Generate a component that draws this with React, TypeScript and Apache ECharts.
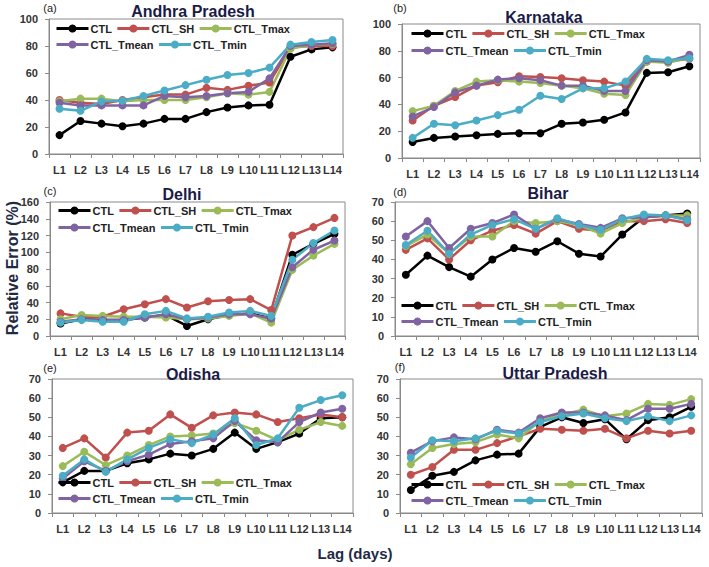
import React, { useEffect, useRef } from "react";
import * as echarts from "echarts";

const lags = ["L1", "L2", "L3", "L4", "L5", "L6", "L7", "L8", "L9", "L10", "L11", "L12", "L13", "L14"];
const seriesNames = ["CTL", "CTL_SH", "CTL_Tmax", "CTL_Tmean", "CTL_Tmin"];
const seriesColors = ["#000000", "#C0504D", "#9BBB59", "#8064A2", "#4BACC6"];

// (a) Andhra Pradesh
const apCTL = [14, 24.5, 22.5, 20.5, 22.5, 26, 26, 31, 34.5, 36, 36.5, 72, 77.5, 79];
const apSH = [40, 38, 37, 40, 42, 44, 44, 49, 47.5, 50.5, 53, 79, 80, 80];
const apTmax = [39, 41, 41, 39, 40, 40, 40, 42, 45, 44, 46, 78, 81, 81.5];
const apTmean = [38, 36, 36, 36, 36, 43, 42, 43, 45, 46, 56, 80, 81, 82];
const apTmin = [33.5, 32, 39, 39.5, 43, 47, 51, 55, 58.5, 60, 64, 81, 83, 84.5];

// (b) Karnataka
const kaCTL = [12, 15, 16, 17, 18, 18.5, 18.5, 25.5, 26.5, 28.5, 34, 63.5, 64, 68.5];
const kaSH = [28, 39, 45.5, 54, 56.5, 61, 60.5, 59.5, 58, 57, 54, 72, 72, 74];
const kaTmax = [35, 39, 50, 57, 58, 57, 56, 54, 52, 48, 47, 72, 71, 75];
const kaTmean = [31, 38, 49, 54, 58.5, 59.5, 58, 54, 54, 50, 50, 73, 72, 77];
const kaTmin = [15, 25.5, 24.5, 28, 32, 36, 46.5, 44, 52, 52, 57, 74, 73, 74.5];

// (c) Delhi
const deCTL = [15, 20, 19, 19, 22, 25, 12, 20, 25, 27, 21, 97, 110, 122];
const deSH = [27, 23, 23, 32, 38, 44, 34, 41.5, 43, 44, 31, 120, 130, 141];
const deTmax = [20, 25, 24, 23, 23, 22, 20, 21, 24, 27, 16, 79, 96, 110];
const deTmean = [17, 20, 19, 19, 22, 26, 20, 22, 26, 26, 21, 82, 103, 114];
const deTmin = [16, 19, 17, 17, 26, 30, 21, 23, 28, 30, 24, 91, 111, 126];

// (d) Bihar
const biCTL = [32, 42, 36, 31, 40, 46, 44, 49.5, 43, 41.5, 53, 62, 63, 64];
const biSH = [45, 51, 40, 50, 55, 58, 53.5, 60, 56, 55, 60, 60, 61, 59];
const biTmax = [47, 53, 43, 52, 52, 60, 59, 60, 58, 53.5, 59, 62, 63, 63];
const biTmean = [52, 60, 46, 56, 59, 63.5, 56, 61, 58.5, 56.5, 61.5, 62, 63, 61];
const biTmin = [47.5, 55, 43, 53, 58, 61, 56, 61.5, 58, 55.5, 61, 63.5, 63, 60.5];

// (e) Odisha
const odCTL = [16, 22, 22, 26, 28, 31, 30, 33.5, 42, 33.5, 37, 41.5, 49.5, 50];
const odSH = [34, 39, 29, 42, 43, 51.5, 44.5, 51, 52.5, 51.5, 47.5, 49.5, 51.5, 50];
const odTmax = [24.5, 32, 25, 30, 35.5, 40, 40.5, 41.5, 47, 43, 38, 43.5, 47.5, 45.5];
const odTmean = [18, 27, 22, 27, 30.5, 36, 37.5, 39, 48, 38, 37, 47.5, 52.5, 54.5];
const odTmin = [19.5, 28, 21.5, 28, 34, 38.5, 36.5, 41, 49.5, 35.5, 39, 55, 59, 61.5];

// (f) Uttar Pradesh
const upCTL = [12, 19.5, 21.5, 27.5, 30.5, 31, 45, 50, 47, 49, 38.5, 48.5, 50, 55.5];
const upSH = [20, 24, 33, 33, 36.5, 40, 44, 43.5, 43, 44, 39, 43, 41.5, 43];
const upTmax = [25.5, 34, 36, 37, 41, 39, 48, 51.5, 54, 50.5, 52, 57, 56.5, 59.5];
const upTmean = [31.5, 37.5, 39.5, 38.5, 43.5, 42, 49.5, 52.5, 52.5, 51, 48.5, 54.5, 54.5, 57];
const upTmin = [29, 38, 37.5, 39, 43, 41.5, 47.5, 50.5, 52, 49.5, 48, 50.5, 48, 51];

const panelTitles = ["Andhra Pradesh", "Karnataka", "Delhi", "Bihar", "Odisha", "Uttar Pradesh"];
const panelTags = ["(a)", "(b)", "(c)", "(d)", "(e)", "(f)"];
const panelData = [
  [apCTL, apSH, apTmax, apTmean, apTmin],
  [kaCTL, kaSH, kaTmax, kaTmean, kaTmin],
  [deCTL, deSH, deTmax, deTmean, deTmin],
  [biCTL, biSH, biTmax, biTmean, biTmin],
  [odCTL, odSH, odTmax, odTmean, odTmin],
  [upCTL, upSH, upTmax, upTmean, upTmin],
];
const yMax = [100, 100, 160, 70, 70, 70];
const yStep = [20, 20, 20, 10, 10, 10];

// layout (pixels)
const grids = [
  { left: 49, top: 19, width: 294, height: 135 },
  { left: 402, top: 24, width: 298, height: 134 },
  { left: 50, top: 202, width: 295, height: 134 },
  { left: 395, top: 202, width: 303, height: 134 },
  { left: 52, top: 379, width: 301, height: 134 },
  { left: 400, top: 379, width: 302, height: 134 },
];
const titlePos = [
  [193, 11], [544, 17], [182, 194], [548, 193], [193, 374], [555, 373],
];
const tagPos = [
  [50, 8], [400, 8], [50, 191], [400, 192], [50, 368], [400, 367],
];
const legendPos = [
  [55, 30, 46], [410, 35, 52], [57, 212, 229], [400, 307, 323], [57, 484, 500], [410, 486, 502],
];

const FONT = '"Liberation Sans", Arial, sans-serif';

export default function App() {
  const ref = useRef<HTMLDivElement>(null);
  useEffect(() => {
    if (!ref.current) return;
    const chart = echarts.init(ref.current, undefined, { renderer: "svg" });

    const series: any[] = [];
    const xAxis: any[] = [];
    const yAxis: any[] = [];
    const legend: any[] = [];
    const graphic: any[] = [];

    panelData.forEach((sets, p) => {
      xAxis.push({
        type: "category",
        gridIndex: p,
        data: lags,
        boundaryGap: true,
        axisLine: { lineStyle: { color: "#8a8a8a", width: 1 } },
        axisTick: { show: true, length: 4, lineStyle: { color: "#8a8a8a" } },
        axisLabel: {
          interval: 0,
          margin: 10,
          fontSize: 11,
          fontWeight: "bold",
          fontFamily: FONT,
          color: "#333",
        },
        splitLine: { show: false },
      });
      yAxis.push({
        type: "value",
        gridIndex: p,
        min: 0,
        max: yMax[p],
        interval: yStep[p],
        axisLine: { show: true, lineStyle: { color: "#8a8a8a", width: 1 } },
        axisTick: { show: true, length: 4, lineStyle: { color: "#8a8a8a" } },
        axisLabel: {
          margin: 11,
          fontSize: 11,
          fontWeight: "bold",
          fontFamily: FONT,
          color: "#333",
        },
        splitLine: { show: false },
      });
      sets.forEach((vals, s) => {
        series.push({
          type: "line",
          name: seriesNames[s],
          xAxisIndex: p,
          yAxisIndex: p,
          data: vals,
          symbol: "circle",
          symbolSize: 8,
          color: seriesColors[s],
          lineStyle: { width: 2.5, color: seriesColors[s] },
          itemStyle: { color: seriesColors[s] },
        });
      });
      const [lx, ly1, ly2] = legendPos[p];
      const legBase = {
        orient: "horizontal",
        left: lx,
        padding: 0,
        itemWidth: 32,
        itemHeight: 10,
        itemGap: 4,
        selectedMode: false,
        lineStyle: { width: 3 },
        textStyle: {
          fontSize: 11,
          fontWeight: "bold",
          fontFamily: FONT,
          color: "#222",
          width: 60,
          padding: [0, 0, 0, -3],
        },
      };
      legend.push({ ...legBase, top: ly1 - 7, data: seriesNames.slice(0, 3) });
      legend.push({ ...legBase, top: ly2 - 7, data: seriesNames.slice(3) });

      graphic.push({
        type: "text",
        x: titlePos[p][0],
        y: titlePos[p][1],
        style: {
          text: panelTitles[p],
          font: `bold 16px ${FONT}`,
          fill: "#1b1b48",
          align: "center",
          verticalAlign: "middle",
          shadowColor: "rgba(255,150,20,0.9)",
          shadowBlur: 3,
        },
      });
      graphic.push({
        type: "text",
        x: tagPos[p][0],
        y: tagPos[p][1],
        style: {
          text: panelTags[p],
          font: `11px ${FONT}`,
          fill: "#222",
          align: "center",
          verticalAlign: "middle",
        },
      });
    });

    graphic.push({
      type: "text",
      x: 12,
      y: 268,
      rotation: Math.PI / 2,
      style: {
        text: "Relative Error (%)",
        font: `bold 16px ${FONT}`,
        fill: "#1f2b45",
        align: "center",
        verticalAlign: "middle",
      },
    });
    graphic.push({
      type: "text",
      x: 355,
      y: 553,
      style: {
        text: "Lag (days)",
        font: `bold 15px ${FONT}`,
        fill: "#1f2b45",
        align: "center",
        verticalAlign: "middle",
      },
    });

    chart.setOption({
      animation: false,
      backgroundColor: "#ffffff",
      grid: grids.map((g) => ({
        ...g,
        show: true,
        borderColor: "#8a8a8a",
        borderWidth: 1,
        backgroundColor: "transparent",
        containLabel: false,
      })),
      xAxis,
      yAxis,
      legend,
      series,
      graphic,
    });
    return () => chart.dispose();
  }, []);

  return (
    <div
      ref={ref}
      style={{ position: "fixed", left: 0, top: 0, width: 709, height: 567 }}
    />
  );
}
